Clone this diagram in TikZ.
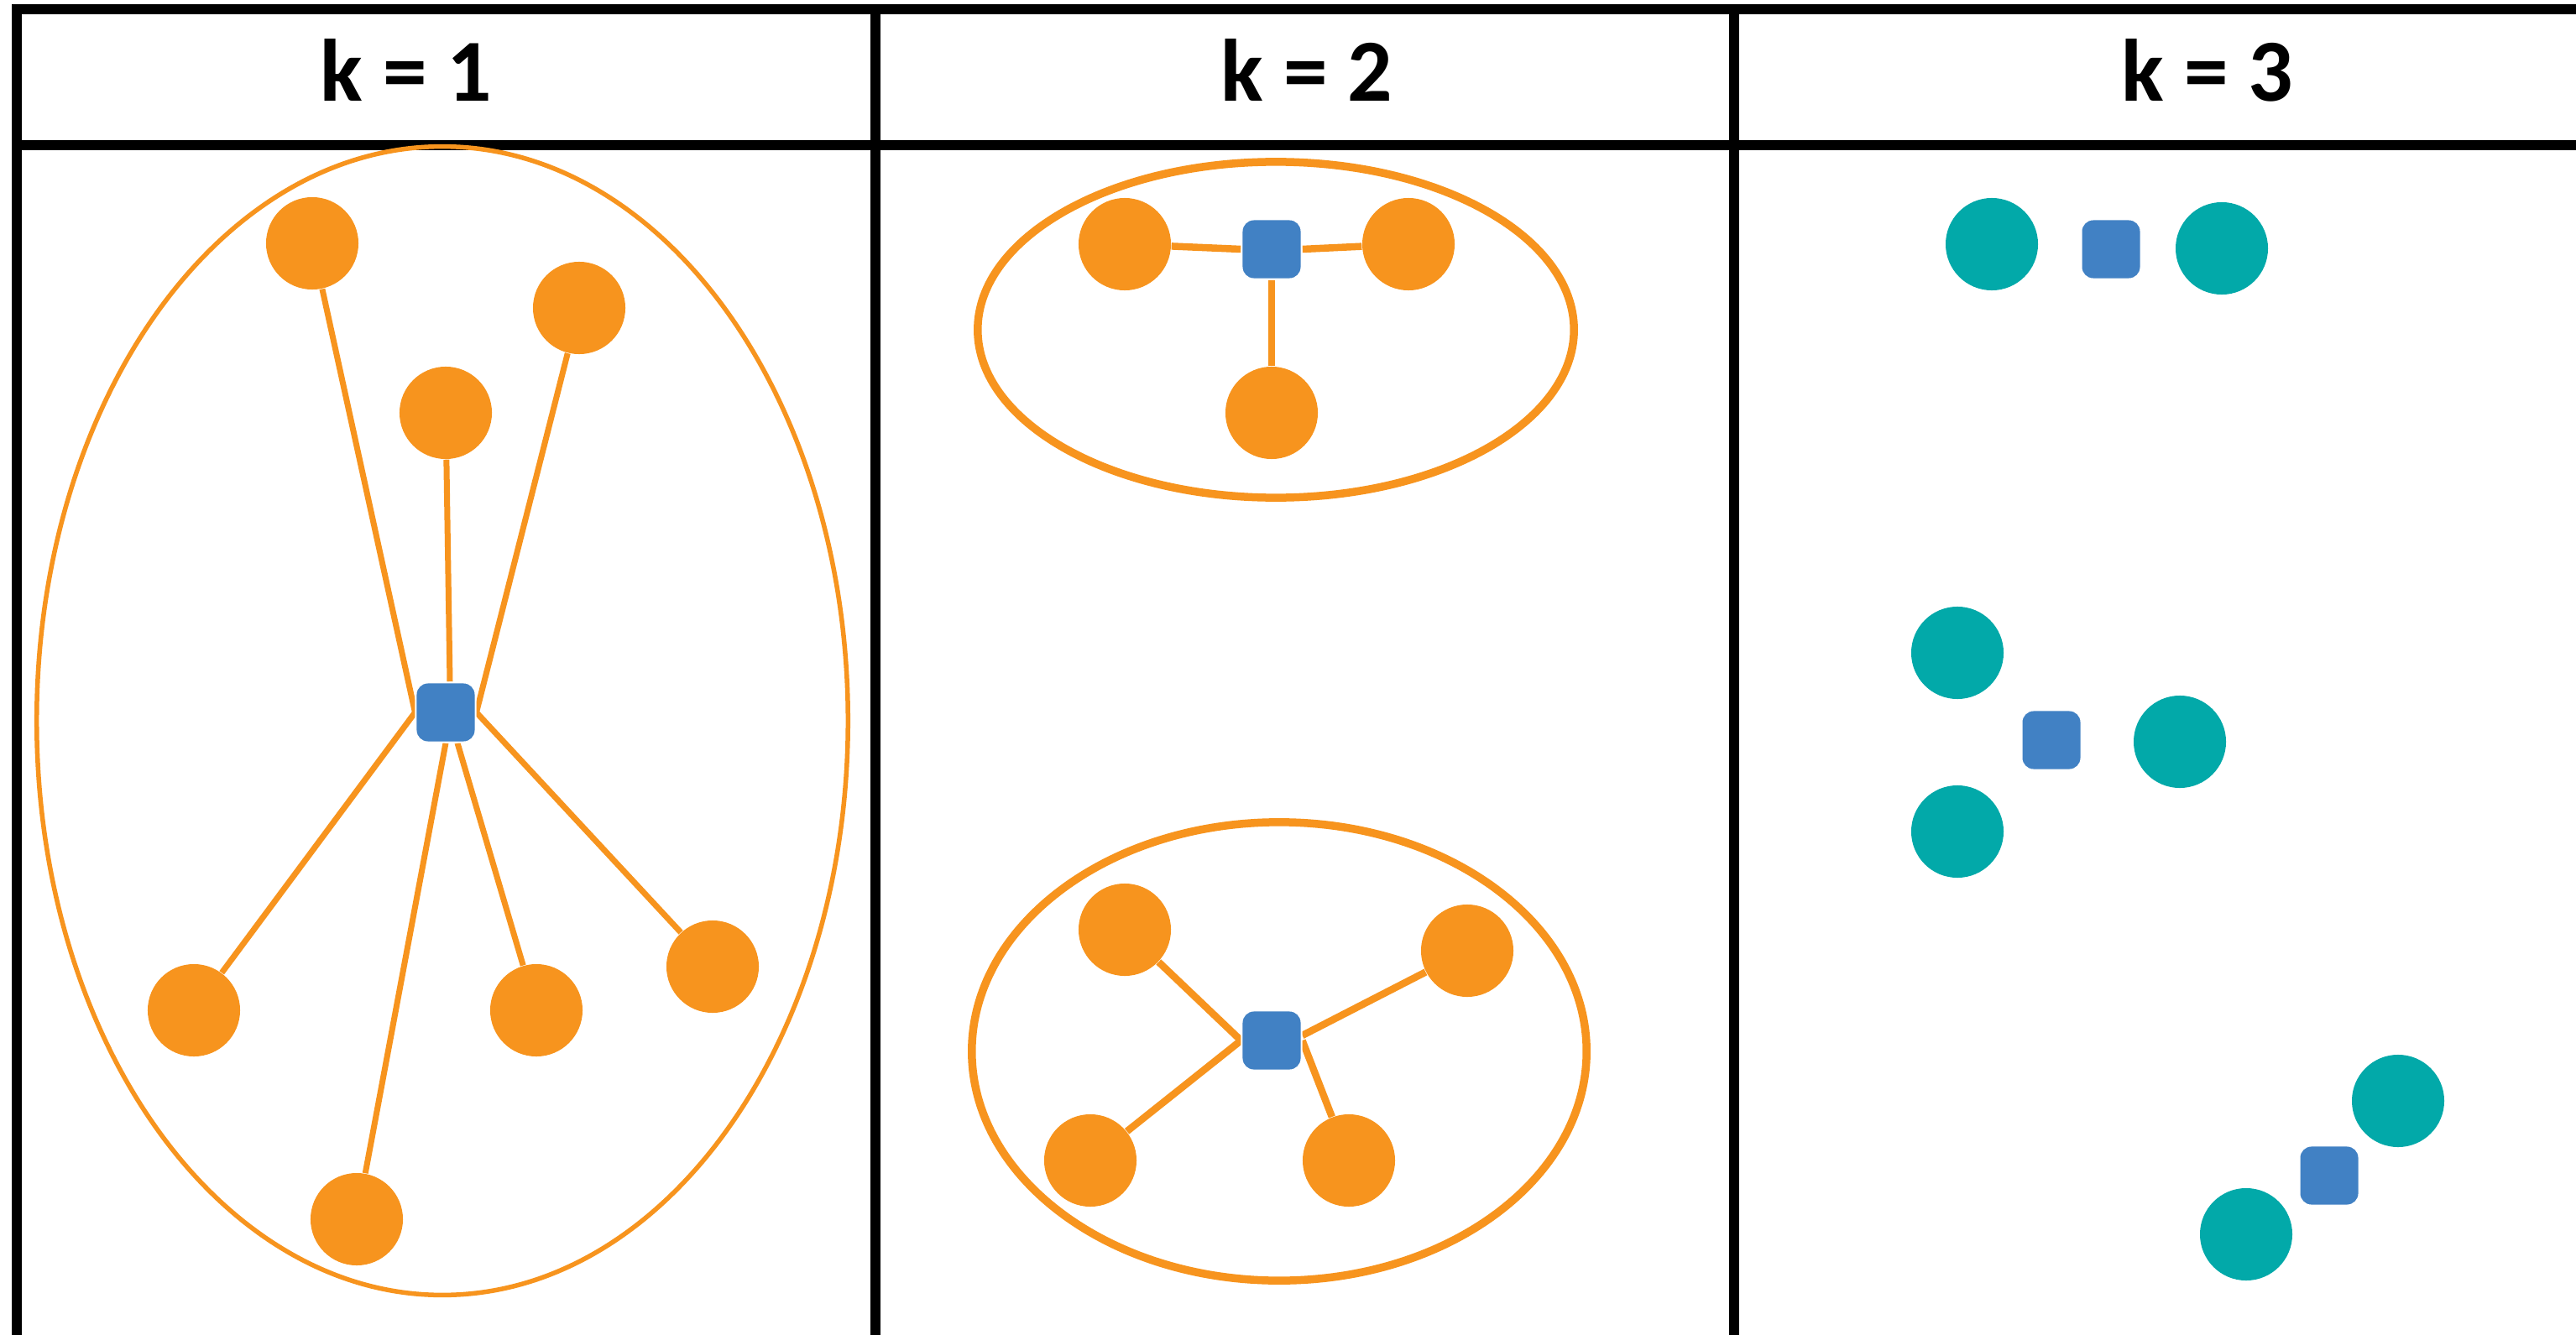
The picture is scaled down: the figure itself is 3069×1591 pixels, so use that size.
\documentclass[tikz,border=0pt]{standalone}
\usepackage{fontspec}
\setmainfont{Carlito}
\definecolor{myorange}{HTML}{F7941E}
\definecolor{myblue}{HTML}{4181C4}
\definecolor{myteal}{HTML}{02A9A9}
\pgfdeclarelayer{bg}
\pgfdeclarelayer{paper}
\pgfsetlayers{paper,bg,main}
\begin{document}
\begin{tikzpicture}[x=0.01cm,y=-0.01cm,
  gridline/.style={line width=0.12cm, black},
  hdr/.style={font=\bfseries\fontsize{30}{36}\selectfont, inner sep=0pt, anchor=base},
  onode/.style={circle, fill=myorange, minimum size=1.1cm, inner sep=0pt},
  tnode/.style={circle, fill=myteal, minimum size=1.1cm, inner sep=0pt},
  fac/.style={rectangle, rounded corners=0.14cm, fill=myblue, draw=white, line width=0.02cm, minimum size=0.71cm, inner sep=0pt},
  thinedge/.style={myorange, line width=0.07cm},
  thickedge/.style={myorange, line width=0.085cm},
  hull1/.style={myorange, line width=0.055cm},
  hull2/.style={myorange, line width=0.095cm}]
\useasboundingbox (0,0) rectangle (3069,1591);
\begin{pgfonlayer}{paper}
\fill[white] (0,0) rectangle (3069,1591);
\end{pgfonlayer}

% grid
\draw[gridline] (14,11) -- (3069,11);
\draw[gridline] (14,173) -- (3069,173);
\draw[gridline] (20,5) -- (20,1591);
\draw[gridline] (1043,5) -- (1043,1591);
\draw[gridline] (2066,5) -- (2066,1591);

% headers
\node[hdr] (h1) at (484,121) {k = 1};
\node[hdr] (h2) at (1557,121) {k = 2};
\node[hdr] (h3) at (2630,121) {k = 3};

% panel 1
\draw[hull1] (527,859) ellipse [x radius=4.83cm, y radius=6.84cm];
\node[fac] (s1) at (531,849) {};
\node[onode] (a) at (372,290) {};
\node[onode] (b) at (690,367) {};
\node[onode] (c) at (531,492) {};
\node[onode] (d) at (231,1204) {};
\node[onode] (e) at (425,1453) {};
\node[onode] (f) at (639,1204) {};
\node[onode] (g) at (849,1152) {};
\begin{pgfonlayer}{bg}
\draw[thinedge] (a) -- (s1.west);
\draw[thinedge] (d) -- (s1.west);
\draw[thinedge] (b) -- (s1.east);
\draw[thinedge] (g) -- (s1.east);
\draw[thinedge] (c) -- ([xshift=0.05cm]s1.north);
\draw[thinedge] (e) -- (s1.south);
\draw[thinedge] (f) -- ([xshift=0.14cm]s1.south);
\end{pgfonlayer}

% panel 2 top
\draw[hull2] (1520,393) ellipse [x radius=3.55cm, y radius=2.0cm];
\node[fac] (s2) at (1515,297) {};
\node[onode] (l2) at (1340,291) {};
\node[onode] (r2) at (1678,291) {};
\node[onode] (b2) at (1515,492) {};
\begin{pgfonlayer}{bg}
\draw[thickedge] (l2) -- (s2.west);
\draw[thickedge] (r2) -- (s2.east);
\draw[thickedge] (b2) -- (s2.south);
\end{pgfonlayer}

% panel 2 bottom
\draw[hull2] (1524,1253) ellipse [x radius=3.66cm, y radius=2.73cm];
\node[fac] (s3) at (1515,1240) {};
\node[onode] (tl) at (1340,1108) {};
\node[onode] (tr) at (1748,1133) {};
\node[onode] (bl) at (1299,1383) {};
\node[onode] (br) at (1607,1383) {};
\begin{pgfonlayer}{bg}
\draw[thickedge] (tl) -- (s3.west);
\draw[thickedge] (bl) -- (s3.west);
\draw[thickedge] (tr) -- ([yshift=0.06cm]s3.east);
\draw[thickedge] (br) -- (s3.east);
\end{pgfonlayer}

% panel 3
\node[tnode] (t1) at (2373,291) {};
\node[tnode] (t2) at (2647,296) {};
\node[fac] (s4) at (2515,297) {};
\node[tnode] (t3) at (2332,778) {};
\node[tnode] (t4) at (2597,884) {};
\node[tnode] (t5) at (2332,991) {};
\node[fac] (s5) at (2444,882) {};
\node[tnode] (t6) at (2857,1312) {};
\node[tnode] (t7) at (2676,1471) {};
\node[fac] (s6) at (2775,1401) {};
\end{tikzpicture}
\end{document}
